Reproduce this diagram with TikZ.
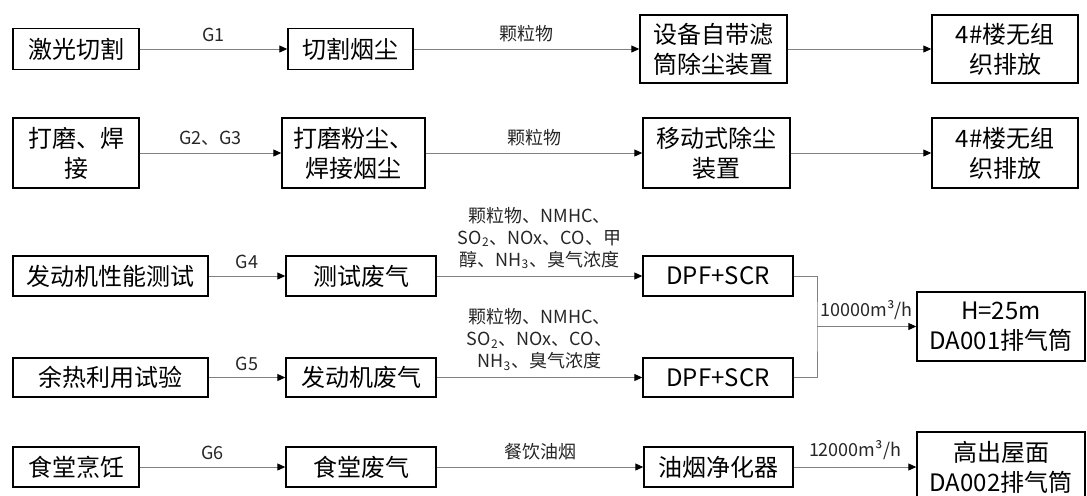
\documentclass[tikz,border=0pt]{standalone}
\usepackage{fontspec}
\setmainfont{Noto Sans CJK SC}
\usetikzlibrary{arrows.meta}

\begin{document}
\begin{tikzpicture}[x=0.5pt,y=-0.5pt,
  box/.style={draw=black,line width=0.7pt,align=center,inner sep=0pt,
    font=\fontsize{12}{15}\selectfont},
  flow/.style={draw=gray,line width=0.5pt,
    -{Triangle[length=4pt,width=3.5pt,color=black]}},
  lab/.style={font=\fontsize{9}{11}\selectfont,align=center,text=black!85}]
\useasboundingbox (0,0) rectangle (1087,495);

% 激光切割
\node[box,minimum width=63pt,minimum height=20.5pt] (jg) at (76,49) {激光切割};
\node[box,minimum width=62.5pt,minimum height=20.5pt] (jgyc) at (350.5,49) {切割烟尘};
\node[box,minimum width=73.5pt,minimum height=34pt] (lt) at (713.5,49) {设备自带滤\\筒除尘装置};
\node[box,minimum width=73pt,minimum height=34pt] (wz1) at (1005,49) {4\#楼无组\\织排放};
\draw[flow] (jg) -- node[lab,above]{G1} (jgyc);
\draw[flow] (jgyc) -- node[lab,above]{颗粒物} (lt);
\draw[flow] (lt) -- (wz1);

% 打磨、焊接
\node[box,minimum width=63pt,minimum height=35pt] (dm) at (76,153) {打磨、焊\\接};
\node[box,minimum width=71.5pt,minimum height=35pt] (dmfc) at (353.5,153) {打磨粉尘、\\焊接烟尘};
\node[box,minimum width=73.5pt,minimum height=35pt] (yd) at (716.5,153) {移动式除尘\\装置};
\node[box,minimum width=73pt,minimum height=35pt] (wz2) at (1005,153) {4\#楼无组\\织排放};
\draw[flow] (dm) -- node[lab,above]{G2、G3} (dmfc);
\draw[flow] (dmfc) -- node[lab,above]{颗粒物} (yd);
\draw[flow] (yd) -- (wz2);

% 发动机试验
\node[box,minimum width=97.5pt,minimum height=20pt] (xn) at (110.5,276) {发动机性能测试};
\node[box,minimum width=75pt,minimum height=20pt] (csfq) at (361,276) {测试废气};
\node[box,minimum width=75pt,minimum height=20pt] (dpf1) at (718,276) {DPF+SCR};
\node[box,minimum width=97.5pt,minimum height=19.5pt] (yr) at (110.5,377.5) {余热利用试验};
\node[box,minimum width=75pt,minimum height=19.5pt] (fdfq) at (361,377.5) {发动机废气};
\node[box,minimum width=75pt,minimum height=19.5pt] (dpf2) at (718,377.5) {DPF+SCR};
\node[box,minimum width=84pt,minimum height=34.5pt] (da1) at (1001,326.5) {H=25m\\DA001排气筒};
\draw[flow] (xn) -- node[lab,above]{G4} (csfq);
\draw[flow] (csfq) -- node[lab,above]{颗粒物、NMHC、\\SO\textsubscript{2}、NOx、CO、甲\\醇、NH\textsubscript{3}、臭气浓度} (dpf1);
\draw[flow] (yr) -- node[lab,above]{G5} (fdfq);
\draw[flow] (fdfq) -- node[lab,above]{颗粒物、NMHC、\\SO\textsubscript{2}、NOx、CO、\\NH\textsubscript{3}、臭气浓度} (dpf2);
\coordinate (hb) at (817,326.5);
\draw[draw=gray,line width=0.5pt] (dpf1.east) -| (hb) |- (dpf2.east);
\draw[flow] (hb) -- node[lab,above]{10000m³/h} (da1);

% 食堂
\node[box,minimum width=63pt,minimum height=20pt] (st) at (76,467) {食堂烹饪};
\node[box,minimum width=75pt,minimum height=20pt] (stfq) at (361,467) {食堂废气};
\node[box,minimum width=74.5pt,minimum height=20pt] (yy) at (718.5,467) {油烟净化器};
\node[box,minimum width=84pt,minimum height=35pt] (da2) at (1001,467) {高出屋面\\DA002排气筒};
\draw[flow] (st) -- node[lab,above]{G6} (stfq);
\draw[flow] (stfq) -- node[lab,above]{餐饮油烟} (yy);
\draw[flow] (yy) -- node[lab,above]{12000m³/h} (da2);

\end{tikzpicture}
\end{document}
